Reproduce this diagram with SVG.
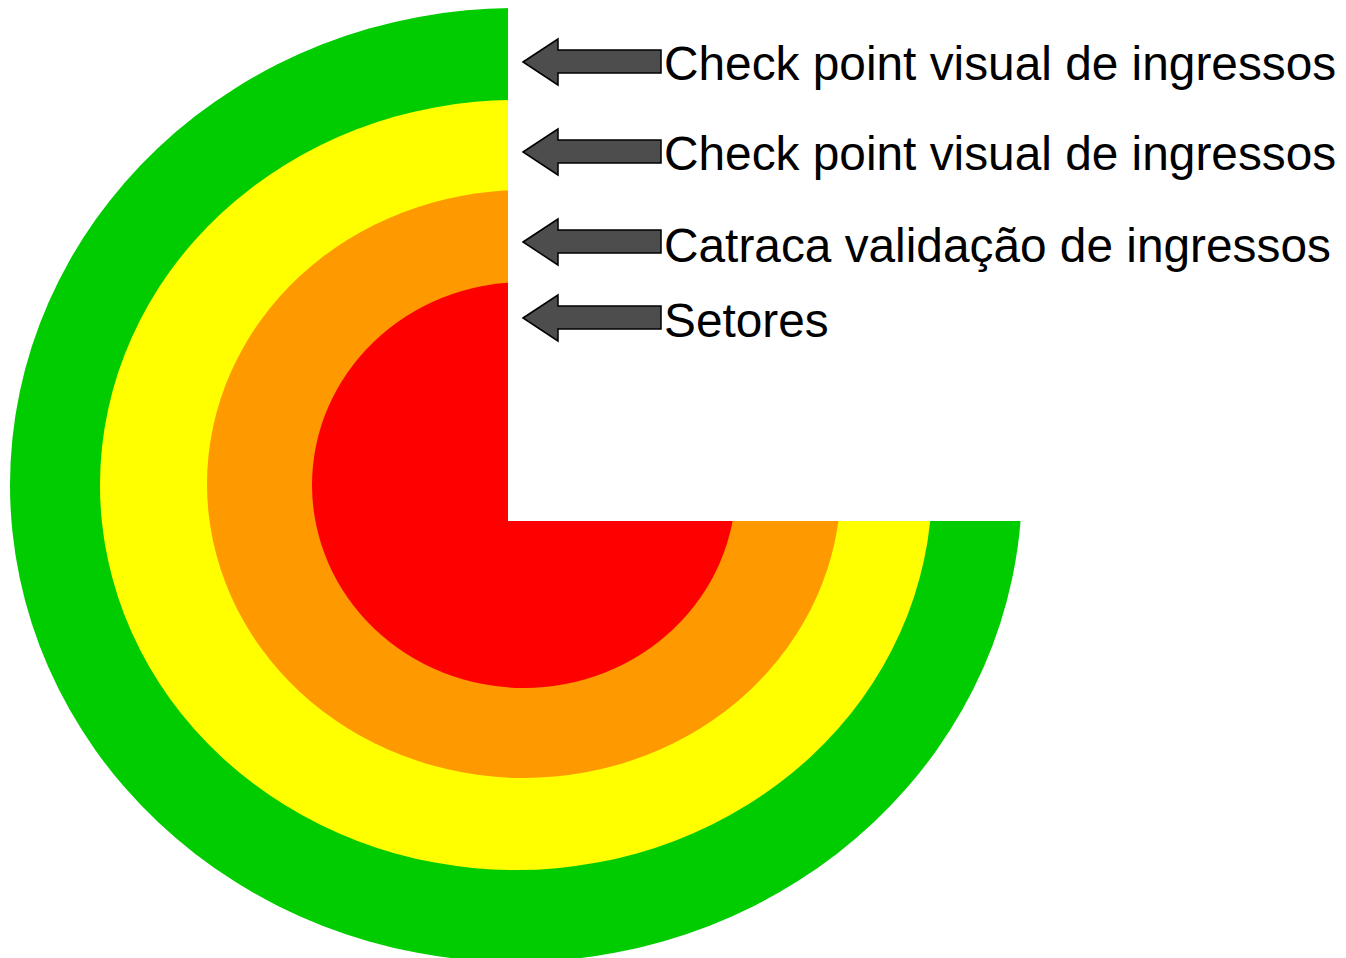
<svg xmlns="http://www.w3.org/2000/svg" width="1346" height="958" viewBox="0 0 1346 958">
<style>
.lbl{font-family:"Liberation Sans",Arial,sans-serif;font-size:47.8px;fill:#000}
.arr{fill:#4d4d4d;stroke:#000;stroke-width:1.5;stroke-linejoin:miter}
</style>
<defs>
<path id="arrow" d="M0,0 L35,-23 L35,-12 L138,-12 L138,11 L35,11 L35,23 Z"/>
</defs>
<rect width="1346" height="958" fill="#fff"/>
<g id="rings">
<ellipse id="ring-green" cx="516" cy="485" rx="506" ry="477" fill="#00cc00"/>
<ellipse id="ring-yellow" cx="516" cy="485" rx="416" ry="385" fill="#ffff00"/>
<ellipse id="ring-orange" cx="524" cy="484" rx="317" ry="294" fill="#ff9900"/>
<ellipse id="ring-red" cx="524" cy="485" rx="212" ry="203" fill="#ff0000"/>
<rect id="cutout" x="508" y="0" width="515" height="521" fill="#fff"/>
</g>
<g id="connectors">
<use href="#arrow" class="arr" x="523" y="62"/>
<use href="#arrow" class="arr" x="523" y="152"/>
<use href="#arrow" class="arr" x="523" y="242"/>
<use href="#arrow" class="arr" x="523" y="318"/>
</g>
<g id="label1"><text class="lbl" x="664" y="80">Check point visual de ingressos</text></g>
<g id="label2"><text class="lbl" x="664" y="170">Check point visual de ingressos</text></g>
<g id="label3"><text class="lbl" x="664" y="262">Catraca validação de ingressos</text></g>
<g id="label4"><text class="lbl" x="664" y="337">Setores</text></g>
</svg>
